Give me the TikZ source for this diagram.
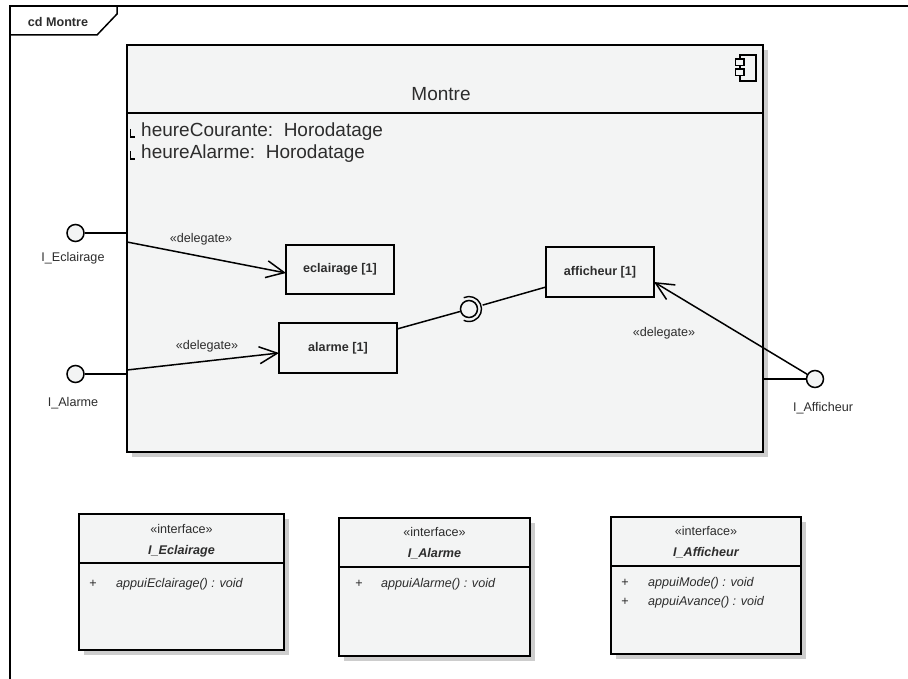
\documentclass[tikz,border=0pt]{standalone}
\usepackage{fontspec}
\setmainfont{Liberation Sans}
\usetikzlibrary{arrows.meta}
\definecolor{fillg}{RGB}{243,244,244}
\definecolor{shad}{RGB}{205,205,205}
\definecolor{txt}{RGB}{45,45,45}
\newcommand{\smallfs}{\fontsize{12.6}{14}\selectfont}
\tikzset{
  box/.style={draw, fill=fillg, line width=1.6pt, inner sep=0pt, outer sep=0pt, anchor=north west},
  port/.style={circle, draw, fill=fillg, line width=1.5pt, minimum size=17pt, inner sep=0pt},
  conn/.style={line width=1.5pt},
  deleg/.style={line width=1.5pt, -{Straight Barb[length=18pt, width=17pt, line width=1.5pt]}},
  small/.style={font=\smallfs, text=txt, inner sep=0pt},
  smallb/.style={font=\bfseries\smallfs, text=txt, inner sep=0pt},
  smalli/.style={font=\itshape\smallfs, text=txt, inner sep=0pt},
  smallbi/.style={font=\bfseries\itshape\smallfs, text=txt, inner sep=0pt},
  big/.style={font=\fontsize{19}{22}\selectfont, text=txt, inner sep=0pt},
}
\begin{document}
\begin{tikzpicture}[x=1pt,y=-1pt]
\useasboundingbox (0,0) rectangle (908,679);
\fill[white] (0,0) rectangle (908,679);
% frame
\draw[line width=1.5pt] (10,679) -- (10,6) -- (908,6);
\draw[line width=1.5pt] (10,35) -- (97,35) -- (117,14) -- (117,6);
\node[smallb] (title) at (58,22) {cd Montre};
% component
\fill[shad] (132,50) rectangle (768,457);
\node[box, minimum width=636pt, minimum height=407pt] (montre) at (127,45) {};
\draw[line width=1.6pt] (127,113) -- (763,113);
\node[big] (mtitle) at (441,94) {Montre};
\draw[line width=1.3pt] (740,55) rectangle (756,81);
\draw[line width=1.3pt, fill=fillg] (735.5,59) rectangle (744,65.5);
\draw[line width=1.3pt, fill=fillg] (735.5,69) rectangle (744,75.5);
\draw[line width=1.3pt] (130.5,129) -- (130.5,137) -- (135,137);
\draw[line width=1.3pt] (130.5,151) -- (130.5,159) -- (135,159);
\node[big, anchor=base west] (a1) at (141,137) {heureCourante:\ \ Horodatage};
\node[big, anchor=base west] (a2) at (141,159) {heureAlarme:\ \ Horodatage};
% parts
\node[box, minimum width=108pt, minimum height=49pt] (ecl) at (286,245) {};
\node[smallb] at (ecl.center) {eclairage [1]};
\node[box, minimum width=118pt, minimum height=50pt] (alm) at (279,323) {};
\node[smallb] at (alm.center) {alarme [1]};
\node[box, minimum width=108pt, minimum height=50pt] (aff) at (546,247) {};
\node[smallb] at (aff.center) {afficheur [1]};
% ports
\node[port] (pE) at (75.5,233) {};
\node[small] (lE) at (73,258) {I\_Eclairage};
\coordinate (bE) at (127,233);
\draw[conn] (pE) -- (bE);
\node[port] (pA) at (75.5,374) {};
\node[small] (lA) at (73,403) {I\_Alarme};
\coordinate (bA) at (127,374);
\draw[conn] (pA) -- (bA);
\node[port] (pF) at (815,379) {};
\node[small] (lF) at (823,408) {I\_Afficheur};
\coordinate (bF) at (763,379);
\draw[conn] (pF) -- (bF);
% delegates
\coordinate (dE) at (127,242);
\draw[deleg] (dE) -- ([yshift=-3.5pt]ecl.west);
\node[small] (lbE) at (201,239) {«delegate»};
\coordinate (dA) at (127,370);
\draw[deleg] (dA) -- ([yshift=-5pt]alm.west);
\node[small] (lbA) at (207,346) {«delegate»};
\draw[deleg] (pF) -- ([yshift=-10pt]aff.east);
\node[small] (lbF) at (664,333) {«delegate»};
% assembly
\node[port, line width=1.5pt] (ball) at (469,309) {};
\node[circle, minimum size=28pt, inner sep=0pt] (sock) at (469,309) {};
\draw[line width=1.4pt] ([shift={(-115:12.5)}]ball.center) arc[start angle=-115, end angle=115, radius=12.5];
\coordinate (aR) at (397,329);
\draw[conn] (aR) -- (ball);
\draw[conn] (sock) -- ([yshift=-15pt]aff.west);
% interfaces
\fill[shad] (84,519) rectangle (289,655);
\node[box, minimum width=205pt, minimum height=136pt] (iE) at (79,514) {};
\draw[line width=1.6pt] (79,563) -- (284,563);
\node[small] at (181.5,529) {«interface»};
\node[smallbi] at (181.5,551) {I\_Eclairage};
\node[small, anchor=base] at (93,587) {+};
\node[smalli, anchor=base west] at (116,587) {appuiEclairage() : void};

\fill[shad] (344,523) rectangle (535,661);
\node[box, minimum width=191pt, minimum height=138pt] (iA) at (339,518) {};
\draw[line width=1.6pt] (339,567) -- (530,567);
\node[small] at (434.5,532) {«interface»};
\node[smallbi] at (434.5,554) {I\_Alarme};
\node[small, anchor=base] at (359,587) {+};
\node[smalli, anchor=base west] at (381,587) {appuiAlarme() : void};

\fill[shad] (616,522) rectangle (806,659);
\node[box, minimum width=190pt, minimum height=137pt] (iF) at (611,517) {};
\draw[line width=1.6pt] (611,566) -- (801,566);
\node[small] at (706,531) {«interface»};
\node[smallbi] at (706,553) {I\_Afficheur};
\node[small, anchor=base] at (625,586) {+};
\node[smalli, anchor=base west] at (648,586) {appuiMode() : void};
\node[small, anchor=base] at (625,605) {+};
\node[smalli, anchor=base west] at (648,605) {appuiAvance() : void};
\end{tikzpicture}
\end{document}
